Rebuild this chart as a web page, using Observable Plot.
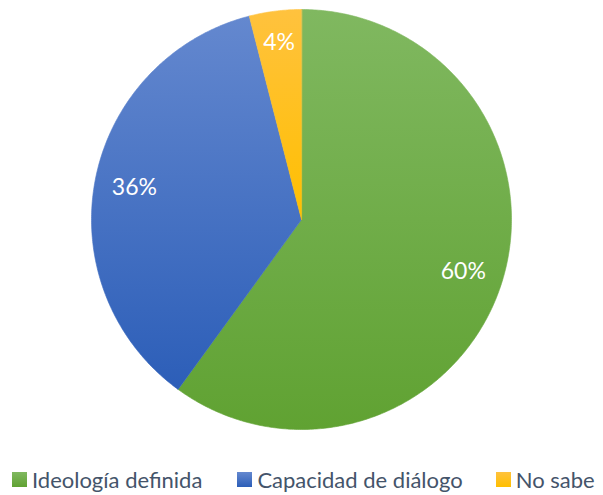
<!DOCTYPE html>
<html>
<head>
<meta charset="utf-8">
<script src="https://cdn.jsdelivr.net/npm/d3@7"></script>
<script src="https://cdn.jsdelivr.net/npm/@observablehq/plot@0.6"></script>
<style>
  body { margin: 0; background: #fff; font-family: Lato, "Open Sans", sans-serif; overflow: hidden; }
  #chart { width: 603px; height: 455px; }
  .legend { display: flex; align-items: center; height: 52px; margin-top: -2px; padding-left: 12px; font-size: 22px; color: #44546a; white-space: nowrap; width: 620px; }
  .item { display: flex; align-items: center; flex-shrink: 0; }
  .sw { width: 15px; height: 15px; margin-right: 5px; flex-shrink: 0; }
</style>
</head>
<body>
<div id="chart"></div>
<div class="legend" id="legend"></div>
<script>
const categories = ["Ideología definida", "Capacidad de diálogo", "No sabe"];
const values = [60, 36, 4];
const labels = ["60%", "36%", "4%"];
const topColors = ["#80b860", "#6488cf", "#ffc23e"];
const bottomColors = ["#60a232", "#2c5eb8", "#ffbf00"];
const gradIds = ["gGreen", "gBlue", "gYellow"];

const arcs = d3.pie().sort(null).value(d => d)(values);

// polygon points per slice
const polys = arcs.map((a, i) => {
  const pts = [{x: 0, y: 0}];
  const n = Math.max(4, Math.ceil((a.endAngle - a.startAngle) / 0.01));
  for (let k = 0; k <= n; k++) {
    const t = a.startAngle + (a.endAngle - a.startAngle) * k / n;
    pts.push({x: Math.sin(t), y: Math.cos(t)});
  }
  return pts;
});
const labelR = [0.81, 0.81, 0.85];
const labelData = arcs.map((a, i) => {
  const m = (a.startAngle + a.endAngle) / 2;
  return {x: labelR[i] * Math.sin(m), y: labelR[i] * Math.cos(m), text: labels[i]};
});

const marks = polys.map((pts, i) => Plot.line(pts, {
  x: "x", y: "y", curve: "linear-closed",
  fill: `url(#${gradIds[i]})`, stroke: `url(#${gradIds[i]})`, strokeWidth: 0.6
}));
marks.push(Plot.text(labelData, {x: "x", y: "y", text: "text", fill: "white", fontSize: 23, fontFamily: "Lato, 'Open Sans', sans-serif"}));

const svg = Plot.plot({
  width: 603, height: 455, margin: 0,
  x: {domain: [-1, 1], range: [91, 511], axis: null},
  y: {domain: [-1, 1], range: [429, 9], axis: null},
  marks
});
const ns = "http://www.w3.org/2000/svg";
const defs = document.createElementNS(ns, "defs");
gradIds.forEach((id, i) => {
  const g = document.createElementNS(ns, "linearGradient");
  g.setAttribute("id", id);
  g.setAttribute("x1", "0"); g.setAttribute("y1", "0");
  g.setAttribute("x2", "0"); g.setAttribute("y2", "1");
  [[0, topColors[i]], [1, bottomColors[i]]].forEach(([o, c]) => {
    const s = document.createElementNS(ns, "stop");
    s.setAttribute("offset", o); s.setAttribute("stop-color", c);
    g.appendChild(s);
  });
  defs.appendChild(g);
});
svg.insertBefore(defs, svg.firstChild);
document.getElementById("chart").appendChild(svg);

const legend = document.getElementById("legend");
const gaps = [0, 35, 33];
categories.forEach((c, i) => {
  const item = document.createElement("div");
  item.className = "item";
  item.style.marginLeft = gaps[i] + "px";
  item.innerHTML = `<div class="sw" style="background:linear-gradient(${topColors[i]},${bottomColors[i]})"></div><span>${c}</span>`;
  legend.appendChild(item);
});
</script>
</body>
</html>
